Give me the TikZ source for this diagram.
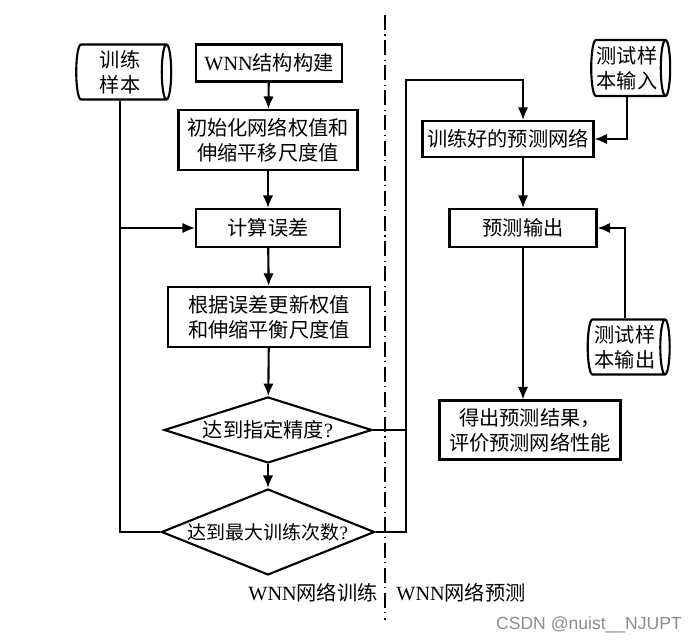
\documentclass[tikz,border=0pt]{standalone}
\usepackage{fontspec}
\setmainfont{Liberation Serif}
\newfontfamily\cjk{Noto Sans CJK SC}
\newfontfamily\marksf{Liberation Sans}
\usetikzlibrary{shapes.geometric,arrows.meta}
\tikzset{
	% Node styles of the flowchart: steps, tests and stored data
	proc node/.style={rectangle,draw,line width=1.2pt,align=center,inner sep=2pt},
	test node/.style={diamond,draw,line width=1.2pt,inner sep=0pt,aspect=3},
	data node/.style={cylinder,draw,line width=1.2pt,shape aspect=0.2,align=center,inner sep=1pt},
	% Connectors: with and without arrow head
	flow/.style={line width=1.2pt,-{Latex[length=2.5mm,width=2.1mm]}},
	link/.style={line width=1.2pt}
}

\begin{document}
\begin{tikzpicture}[x=0.02cm,y=-0.02cm,font=\cjk\fontsize{11.5}{14.2}\selectfont]
	\useasboundingbox (0,0) rectangle (691,644);
	\fill[white] (0,0) rectangle (691,644);
	
	% Training part (left)
	\node(trs)[data node,minimum height=1.9cm,minimum width=1.1cm] at (120,72) {训练\\样本};
	\node(wnn)[proc node,minimum width=2.92cm,minimum height=0.74cm] at (269,63) {{\rmfamily WNN}结构构建};
	\node(init)[proc node,minimum width=3.58cm,minimum height=1.2cm] at (268,140) {初始化网络权值和\\伸缩平移尺度值};
	\node(err)[proc node,minimum width=2.88cm,minimum height=0.76cm] at (268,228) {计算误差};
	\node(upd)[proc node,minimum width=4.04cm,minimum height=1.2cm] at (269,317) {根据误差更新权值\\和伸缩平衡尺度值};
	\node(d1)[test node,minimum width=4.16cm,minimum height=1.32cm] at (268,430) {达到指定精度{\rmfamily ?}};
	\node(d2)[test node,minimum width=4.2cm,minimum height=1.72cm,font=\cjk\fontsize{10.8}{13}\selectfont] at (268,532) {达到最大训练次数{\rmfamily ?}};
	
	% Prediction part (right)
	\node(tsin)[data node,minimum height=1.58cm,minimum width=1.12cm] at (627,68) {测试样\\本输入};
	\node(net)[proc node,minimum width=3.42cm,minimum height=0.72cm] at (508,139) {训练好的预测网络};
	\node(pred)[proc node,minimum width=2.94cm,minimum height=0.76cm] at (523,228) {预测输出};
	\node(tsout)[data node,minimum height=1.64cm,minimum width=1.1cm] at (625,347) {测试样\\本输出};
	\node(res)[proc node,minimum width=3.62cm,minimum height=1.18cm] at (530,430) {得出预测结果，\\评价预测网络性能};
	
	% Separating line and part titles
	\draw[line width=0.6pt,dash pattern=on 8.5pt off 2.6pt on 0.6pt off 2.6pt] (385,15) -- (385,620);
	\node(trainlbl) at (313,593) {{\rmfamily WNN}网络训练};
	\node(predlbl) at (461,593) {{\rmfamily WNN}网络预测};
	\node(mark)[text=black!45,font=\marksf\fontsize{10}{12}\selectfont] at (589,625) {CSDN @nuist\_\_NJUPT};
	
	% Training flow
	\draw[flow] (wnn) -- (init);
	\draw[flow] (init) -- (err);
	\draw[flow] (err) -- (upd);
	\draw[flow] (upd) -- (d1);
	\draw[flow] (d1) -- (d2);
	\coordinate (j1) at (trs.south |- err.west);
	\draw[flow] (trs.south) -- (j1) -- (err.west);
	\draw[link] (d2.west) -| (j1);
	
	% From the tests to the trained network
	\coordinate (j2) at (406,80);
	\draw[link] (d1.east) -- (d1.east -| j2);
	\draw[flow] (d2.east) -| (j2) -| (pred.north |- net.north);
	
	% Prediction flow
	\draw[flow] (tsin.south) |- (net.east);
	\draw[flow] (net.south -| pred.north) -- (pred.north);
	\draw[flow] (tsout.north) |- (pred.east);
	\draw[flow] (pred.south) -- (pred.south |- res.north);
\end{tikzpicture}
\end{document}
